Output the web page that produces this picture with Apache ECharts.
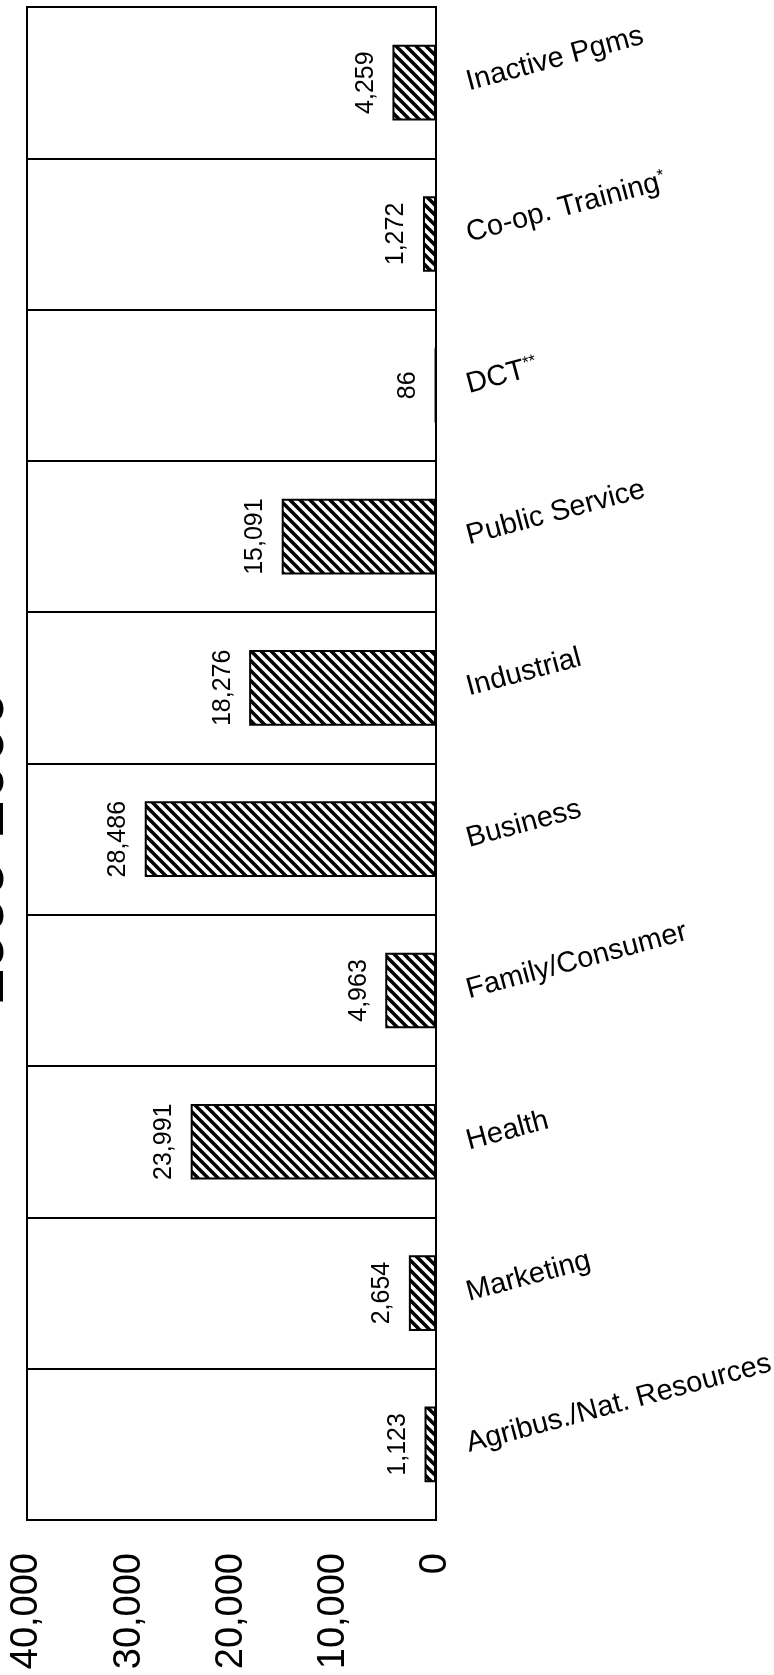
<!DOCTYPE html>
<html>
<head>
<meta charset="utf-8">
<script src="https://cdn.jsdelivr.net/npm/echarts@6/dist/echarts.min.js"></script>
<style>
html,body{margin:0;padding:0;background:#fff;}
#chart{width:774px;height:1675px;}
</style>
</head>
<body>
<div id="chart"></div>
<script>
const categories = ['Agribus./Nat. Resources','Marketing','Health','Family/Consumer','Business','Industrial','Public Service','DCT**','Co-op. Training*','Inactive Pgms'];
const values = [1123, 2654, 23991, 4963, 28486, 18276, 15091, 86, 1272, 4259];
const valueTicks = [0, 10000, 20000, 30000, 40000];
const titleText = '1999-2000';

const FONT = '"Liberation Sans", Arial, Helvetica, sans-serif';

function hatch() {
  const c = document.createElement('canvas');
  c.width = 10; c.height = 10;
  const g = c.getContext('2d');
  g.fillStyle = '#fff';
  g.fillRect(0, 0, 10, 10);
  g.strokeStyle = '#000';
  g.lineWidth = 3.6;
  for (const x0 of [-10, 0, 10]) {
    g.beginPath();
    g.moveTo(x0 - 2, -2);
    g.lineTo(x0 + 12, 12);
    g.stroke();
  }
  return c;
}

function fmt(n) { return n.toLocaleString('en-US'); }

const chart = echarts.init(document.getElementById('chart'), null, {renderer: 'canvas'});
chart.setOption({
  backgroundColor: '#fff',
  animation: false,
  grid: {left: 27, right: 338, top: 7, bottom: 155, show: true, borderColor: '#000', borderWidth: 2,
    backgroundColor: 'transparent', containLabel: false, outerBoundsMode: 'none'},
  xAxis: {
    type: 'value', inverse: true, position: 'bottom',
    min: valueTicks[0], max: valueTicks[valueTicks.length - 1], interval: valueTicks[1] - valueTicks[0],
    axisLine: {show: false}, axisTick: {show: false}, splitLine: {show: false},
    axisLabel: {rotate: 90, margin: 33, fontSize: 38, color: '#000', fontFamily: FONT,
      formatter: v => fmt(v)}
  },
  yAxis: {
    type: 'category', position: 'right', data: categories,
    axisLine: {show: false}, axisTick: {show: false},
    splitLine: {show: true, interval: 0, lineStyle: {color: '#000', width: 2}},
    axisLabel: {rotate: 15, margin: 31, interval: 0, fontSize: 29, color: '#000', fontFamily: FONT,
      formatter: v => v.replace(/(\*+)$/, '{sup|$1}'),
      rich: {sup: {fontSize: 17, color: '#000', fontFamily: FONT, verticalAlign: 'top', padding: [0, 0, 12, 0]}}
    }
  },
  graphic: [{
    type: 'text', x: -15, y: 848, rotation: Math.PI / 2,
    style: {text: titleText, fontSize: 66, fontWeight: 'bold', fontFamily: FONT, fill: '#000',
      textAlign: 'center', textVerticalAlign: 'middle'}
  }],
  series: [{
    type: 'bar', data: values, barWidth: '50%',
    itemStyle: {color: {image: hatch(), repeat: 'repeat'}, borderColor: '#000', borderWidth: 2},
    label: {show: true, position: 'left', distance: 14, rotate: 90, align: 'center', verticalAlign: 'bottom',
      fontSize: 25, color: '#000', fontFamily: FONT, formatter: p => fmt(p.value)}
  }]
});
</script>
</body>
</html>
